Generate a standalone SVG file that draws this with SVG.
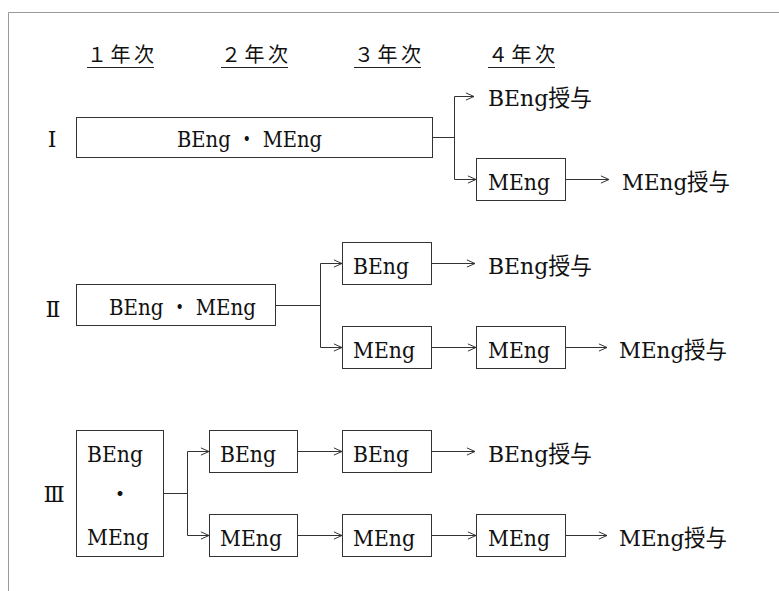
<svg xmlns="http://www.w3.org/2000/svg" width="779" height="591" viewBox="0 0 779 591">
<style>
.frame{fill:none;stroke:#999;stroke-width:1}
.box{fill:#fff;stroke:#333;stroke-width:1}
.ln{fill:none;stroke:#333;stroke-width:1}
.t{font-family:"DejaVu Serif","Liberation Serif","Noto Sans CJK JP",serif;font-size:23px;fill:#111}
.h{font-family:"DejaVu Serif","Noto Sans CJK JP",serif;font-size:20px;fill:#111}
.rn{font-family:"DejaVu Serif","Liberation Serif","Noto Sans CJK JP",serif;font-size:22px;fill:#111}
.ul{stroke:#222;stroke-width:1}
</style>
<defs>
<marker id="arr" viewBox="0 0 10 10" refX="10" refY="5" markerWidth="9" markerHeight="9" markerUnits="userSpaceOnUse" orient="auto">
<path d="M1,1 L10,5 L1,9" fill="none" stroke="#333" stroke-width="1.1"/>
</marker>
</defs>
<rect width="779" height="591" fill="#fff"/>
<path class="frame" d="M8.5,591 V12.5 H779"/>

<g id="headers">
<text class="h" x="87" y="62" textLength="67" lengthAdjust="spacing">１年次</text>
<text class="h" x="221" y="62" textLength="67" lengthAdjust="spacing">２年次</text>
<text class="h" x="354" y="62" textLength="67" lengthAdjust="spacing">３年次</text>
<text class="h" x="488" y="62" textLength="67" lengthAdjust="spacing">４年次</text>
<line class="ul" x1="87" y1="67.5" x2="154" y2="67.5"/>
<line class="ul" x1="221" y1="67.5" x2="288" y2="67.5"/>
<line class="ul" x1="354" y1="67.5" x2="421" y2="67.5"/>
<line class="ul" x1="488" y1="67.5" x2="555" y2="67.5"/>
</g>

<g id="labels">
<text class="rn" x="52" y="147" text-anchor="middle">Ⅰ</text>
<text class="rn" x="53" y="317" text-anchor="middle">Ⅱ</text>
<text class="rn" x="54" y="502" text-anchor="middle">Ⅲ</text>
</g>

<g id="connectors">
<path class="ln" d="M432,137.5 H454.5 M454.5,96.5 V179.5"/>
<path class="ln" d="M454.5,96.5 H474" marker-end="url(#arr)"/>
<path class="ln" d="M454.5,179.5 H476" marker-end="url(#arr)"/>
<path class="ln" d="M566,179.5 H609" marker-end="url(#arr)"/>

<path class="ln" d="M276,305.5 H320.5 M320.5,263.5 V347.5"/>
<path class="ln" d="M320.5,263.5 H342" marker-end="url(#arr)"/>
<path class="ln" d="M320.5,347.5 H342" marker-end="url(#arr)"/>
<path class="ln" d="M432,263.5 H475" marker-end="url(#arr)"/>
<path class="ln" d="M432,347.5 H476" marker-end="url(#arr)"/>
<path class="ln" d="M566,347.5 H607" marker-end="url(#arr)"/>

<path class="ln" d="M164,493.5 H187.5 M187.5,451.5 V535.5"/>
<path class="ln" d="M187.5,451.5 H209" marker-end="url(#arr)"/>
<path class="ln" d="M187.5,535.5 H209" marker-end="url(#arr)"/>
<path class="ln" d="M298,451.5 H342" marker-end="url(#arr)"/>
<path class="ln" d="M298,535.5 H342" marker-end="url(#arr)"/>
<path class="ln" d="M432,451.5 H475" marker-end="url(#arr)"/>
<path class="ln" d="M432,535.5 H476" marker-end="url(#arr)"/>
<path class="ln" d="M566,535.5 H607" marker-end="url(#arr)"/>
</g>

<g id="n-I-both">
<rect class="box" x="76.5" y="117.5" width="356" height="40"/>
<text class="t" x="177" y="147" textLength="145" lengthAdjust="spacingAndGlyphs">BEng ・ MEng</text>
</g>
<g id="n-I-meng">
<rect class="box" x="476.5" y="158.5" width="89" height="42"/>
<text class="t" x="488" y="190" textLength="62" lengthAdjust="spacingAndGlyphs">MEng</text>
</g>
<g id="n-I-bdeg"><text class="t" x="488" y="106" textLength="104" lengthAdjust="spacingAndGlyphs">BEng授与</text></g>
<g id="n-I-mdeg"><text class="t" x="622" y="190" textLength="108" lengthAdjust="spacingAndGlyphs">MEng授与</text></g>

<g id="n-II-both">
<rect class="box" x="76.5" y="284.5" width="199" height="41"/>
<text class="t" x="109" y="315" textLength="147" lengthAdjust="spacingAndGlyphs">BEng ・ MEng</text>
</g>
<g id="n-II-beng3">
<rect class="box" x="342.5" y="242.5" width="89" height="42"/>
<text class="t" x="353" y="274" textLength="56" lengthAdjust="spacingAndGlyphs">BEng</text>
</g>
<g id="n-II-meng3">
<rect class="box" x="342.5" y="326.5" width="89" height="42"/>
<text class="t" x="353" y="358" textLength="62" lengthAdjust="spacingAndGlyphs">MEng</text>
</g>
<g id="n-II-meng4">
<rect class="box" x="476.5" y="326.5" width="89" height="42"/>
<text class="t" x="488" y="358" textLength="62" lengthAdjust="spacingAndGlyphs">MEng</text>
</g>
<g id="n-II-bdeg"><text class="t" x="488" y="274" textLength="104" lengthAdjust="spacingAndGlyphs">BEng授与</text></g>
<g id="n-II-mdeg"><text class="t" x="619" y="358" textLength="108" lengthAdjust="spacingAndGlyphs">MEng授与</text></g>

<g id="n-III-both">
<rect class="box" x="76.5" y="430.5" width="87" height="126"/>
<text class="t" x="87" y="462" textLength="56" lengthAdjust="spacingAndGlyphs">BEng</text>
<text class="t" x="120" y="502" text-anchor="middle">・</text>
<text class="t" x="87" y="545" textLength="62" lengthAdjust="spacingAndGlyphs">MEng</text>
</g>
<g id="n-III-beng2">
<rect class="box" x="209.5" y="430.5" width="88" height="42"/>
<text class="t" x="220" y="462" textLength="56" lengthAdjust="spacingAndGlyphs">BEng</text>
</g>
<g id="n-III-beng3">
<rect class="box" x="342.5" y="430.5" width="89" height="42"/>
<text class="t" x="353" y="462" textLength="56" lengthAdjust="spacingAndGlyphs">BEng</text>
</g>
<g id="n-III-meng2">
<rect class="box" x="209.5" y="514.5" width="88" height="42"/>
<text class="t" x="220" y="546" textLength="62" lengthAdjust="spacingAndGlyphs">MEng</text>
</g>
<g id="n-III-meng3">
<rect class="box" x="342.5" y="514.5" width="89" height="42"/>
<text class="t" x="353" y="546" textLength="62" lengthAdjust="spacingAndGlyphs">MEng</text>
</g>
<g id="n-III-meng4">
<rect class="box" x="476.5" y="514.5" width="89" height="42"/>
<text class="t" x="488" y="546" textLength="62" lengthAdjust="spacingAndGlyphs">MEng</text>
</g>
<g id="n-III-bdeg"><text class="t" x="488" y="462" textLength="104" lengthAdjust="spacingAndGlyphs">BEng授与</text></g>
<g id="n-III-mdeg"><text class="t" x="619" y="546" textLength="108" lengthAdjust="spacingAndGlyphs">MEng授与</text></g>
</svg>
